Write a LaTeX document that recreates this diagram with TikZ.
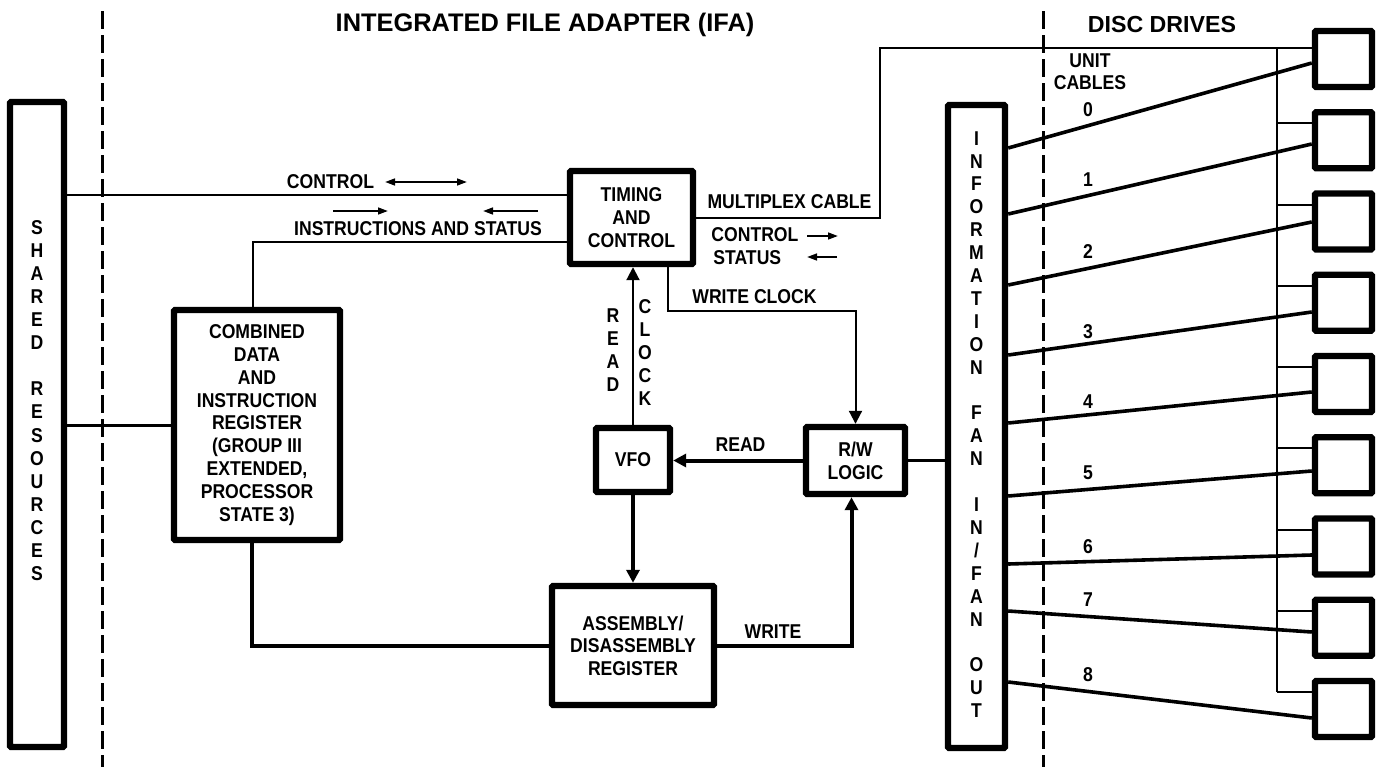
\documentclass[tikz,border=0pt]{standalone}
\usepackage{fontspec}
\setmainfont{Liberation Sans}[FakeStretch=0.88]
\newfontfamily\titlefont{Liberation Sans}
\usetikzlibrary{arrows.meta,calc}
\begin{document}
\begin{tikzpicture}[x=0.5pt,y=-0.5pt,
  box/.style={draw,line width=3.2pt,inner sep=0pt,outer sep=1.6pt,rounded corners=0.6pt,
    align=center,font=\bfseries\fontsize{10}{11.5}\selectfont},
  lbl/.style={inner sep=0pt,font=\bfseries\fontsize{10}{11.5}\selectfont},
  vtxt/.style={inner sep=0pt,align=center,font=\bfseries\fontsize{10}{#1}\selectfont},
  ttl/.style={inner sep=0pt,font=\titlefont\bfseries\fontsize{#1}{14}\selectfont},
  divider/.style={line width=1.5pt,dash pattern=on 9pt off 3pt},
  thinw/.style={line width=1pt},
  medw/.style={line width=1.5pt},
  thickw/.style={line width=2pt},
  cablew/.style={line width=1.8pt},
  tip/.style={-{Triangle[length=6.5pt,width=6.5pt]}},
  sarrow/.style={line width=1pt,-{Triangle[length=5pt,width=3.4pt]}},
  darrow/.style={line width=1pt,{Triangle[length=5pt,width=3.4pt]}-{Triangle[length=5pt,width=3.4pt]}}]
\useasboundingbox (0,0) rectangle (1378,767);

% section dividers
\draw[divider] (102,11) -- (102,767);
\draw[divider] (1043,11) -- (1043,767);

% titles
\node[ttl=12.7] (t1) at (545,25) {INTEGRATED FILE ADAPTER (IFA)};
\node[ttl=11.6] (t2) at (1162,25) {DISC DRIVES};

% boxes
\node[box,minimum width=27pt,minimum height=322.5pt] (shared) at (37,424.5) {};
\node[vtxt=11.55pt] (sharedtxt) at (37,400.5) {S\\H\\A\\R\\E\\D\\[11.55pt]R\\E\\S\\O\\U\\R\\C\\E\\S};
\node[box,minimum width=83pt,minimum height=115pt,font=\bfseries\fontsize{10}{11.4}\selectfont] (comb) at (257,425)
  {COMBINED\\DATA\\AND\\INSTRUCTION\\REGISTER\\(GROUP III\\EXTENDED,\\PROCESSOR\\STATE 3)};
\node[box,minimum width=61.5pt,minimum height=46.5pt] (timing) at (631.5,217.5) {TIMING\\AND\\CONTROL};
\node[box,minimum width=37pt,minimum height=32pt] (vfo) at (633,460) {VFO};
\node[box,minimum width=49.5pt,minimum height=33.5pt] (rw) at (855.5,460.5) {R/W\\LOGIC};
\node[box,minimum width=81pt,minimum height=59.5pt,font=\bfseries\fontsize{10}{11.25}\selectfont] (asm) at (633,645.5) {ASSEMBLY/\\DISASSEMBLY\\REGISTER};
\node[box,minimum width=28.5pt,minimum height=321.5pt] (fan) at (976.5,426.5) {};
\node[vtxt=11.45pt] (fantxt) at (976.5,424.5)
  {I\\N\\F\\O\\R\\M\\A\\T\\I\\O\\N\\[11.45pt]F\\A\\N\\[11.45pt]I\\N\\/\\F\\A\\N\\[11.45pt]O\\U\\T};
\foreach \i in {0,...,8}
  \node[box,minimum width=28.5pt,minimum height=28pt] (d\i) at (1343.5,{59+81.25*\i}) {};

% IFA connections
\draw[thinw] (shared.east |- 0,195) -- (timing.west |- 0,195);
\draw[thinw] (timing.west |- 0,242) -| ([xshift=-2pt]comb.north);
\draw[medw] (shared.east |- comb.west) -- (comb.west);
\draw[thickw] ([xshift=-2.5pt]comb.south) |- (asm.west);

\coordinate (mxbend) at (880,48);
\draw[thinw] (timing.east) -| (mxbend) -- (mxbend -| d0.west);

\coordinate (wcstart) at ($(timing.south)+(36.5,0)$);
\coordinate (wcbend) at ($(rw.north |- 0,311)$);
\draw[thinw,tip] (wcstart) |- (wcbend) -- (rw.north);
\draw[thinw,tip] (vfo.north) -- (vfo.north |- timing.south);
\draw[thickw,tip] (rw.west) -- (rw.west -| vfo.east);
\draw[thickw,tip] (vfo.south) -- (vfo.south |- asm.north);
\draw[thickw,tip] (asm.east) -| ([xshift=-2pt]rw.south);
\draw[medw] (rw.east) -- (rw.east -| fan.west);

% disc drive bus
\coordinate (bustop) at (1277,48);
\foreach \i in {1,...,8} {
  \coordinate (s\i) at ($(d\i.west)+(0,-17)$);
  \draw[thinw] (s\i) -- (s\i -| bustop);
}
\draw[thinw] (bustop) -- (s8 -| bustop);

% unit cables
\foreach \i/\fy/\dy in {0/148/63,1/214/144,2/285/222,3/355/312,4/423/392,5/496/471,6/564/555,7/611/632,8/682/718}
  \draw[cablew] (fan.east |- 0,\fy) -- (d\i.west |- 0,\dy);

% labels
\node[lbl] (lctrl) at (330.5,182) {CONTROL};
\draw[darrow] (385,182) -- (467,182);
\draw[sarrow] (333,211) -- (388,211);
\draw[sarrow] (538,211) -- (483,211);
\node[lbl] (linst) at (418,229) {INSTRUCTIONS AND STATUS};
\node[lbl] (lmux) at (789.5,202) {MULTIPLEX CABLE};
\node[lbl,anchor=west] (lctrl2) at (711,235) {CONTROL};
\draw[sarrow] (807,236) -- (838,236);
\node[lbl,anchor=west] (lstat) at (713,258) {STATUS};
\draw[sarrow] (837,257) -- (807,257);
\node[lbl] (lwc) at (754.5,297) {WRITE CLOCK};
\node[vtxt=11.5pt] (lrd) at (613,350) {R\\E\\A\\D};
\node[vtxt=11.5pt] (lclk) at (645,352.5) {C\\L\\O\\C\\K};
\node[lbl] (lread) at (740.5,445) {READ};
\node[lbl] (lwrite) at (773,632) {WRITE};
\node[lbl] (lunit) at (1090,61) {UNIT};
\node[lbl] (lcables) at (1090,83) {CABLES};
\foreach \n/\y in {0/110,1/180,2/252,3/332,4/402,5/473,6/547,7/600,8/675}
  \node[lbl] (n\n) at (1088,\y) {\n};
\end{tikzpicture}
\end{document}
